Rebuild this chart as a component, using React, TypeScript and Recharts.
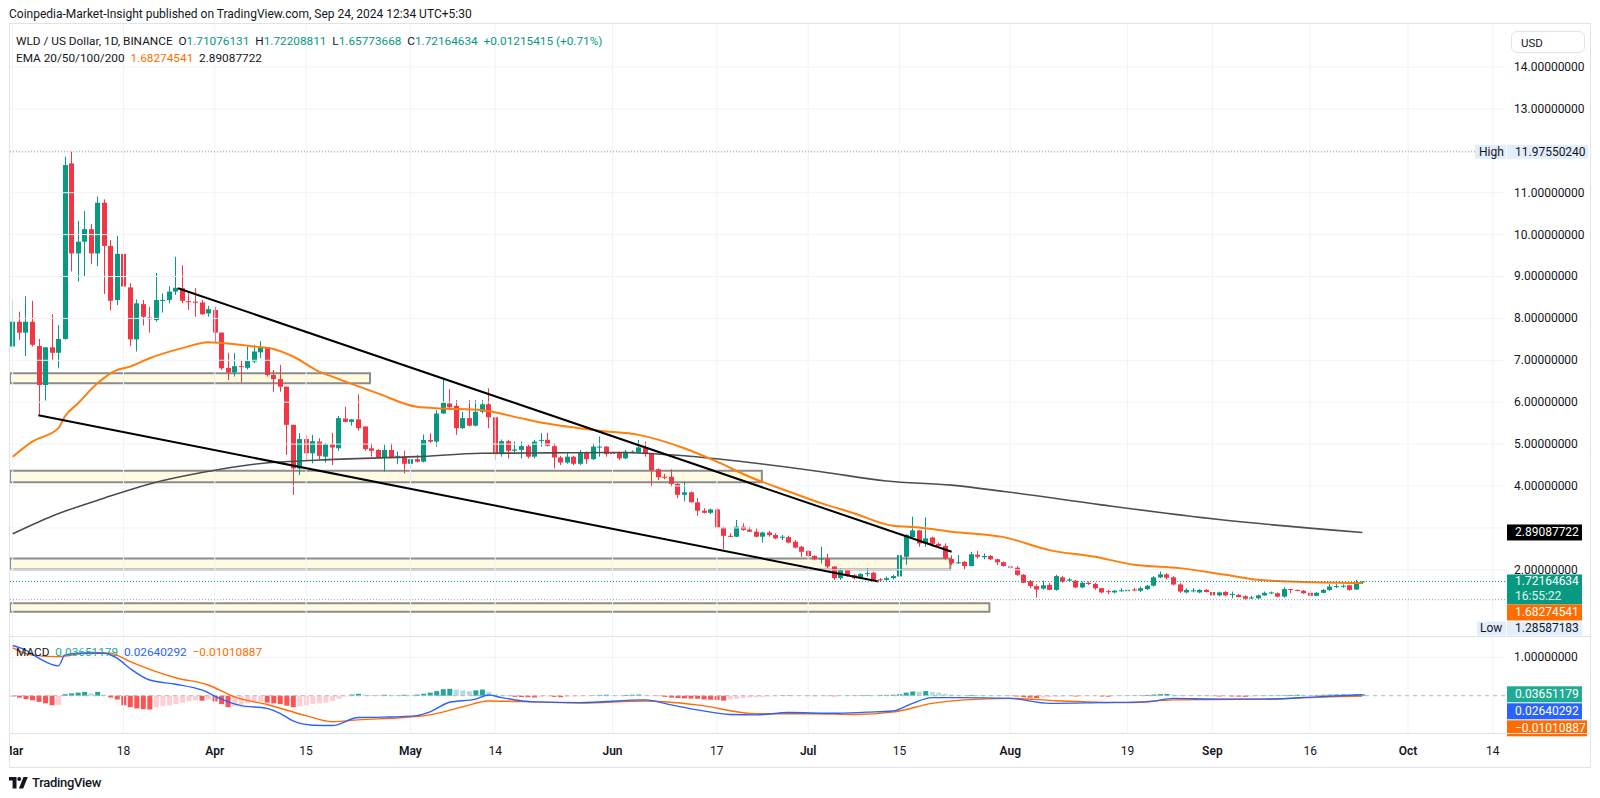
import React from 'react';
import { ComposedChart, Bar, Line, XAxis, YAxis, ReferenceLine, ReferenceArea, Cell } from 'recharts';

const FONT = 'Roboto, "Liberation Sans", Arial, sans-serif';
const TXT = '#131722';
const UP = '#089981';
const DOWN = '#f23645';
const GRID = '#f0f3fa';
const ORANGE = '#ff6d00';

// daily WLD/USD candles, index 0 = 1 Mar 2024
const opens = [
  7.33, 7.92, 7.66, 7.92, 7.34, 6.41, 7.31, 7.18, 7.51, 11.70,
  9.55, 9.83, 10.13, 9.55, 10.76, 9.73, 8.44, 9.54, 8.74, 7.50,
  8.34, 8.02, 7.96, 8.43, 8.44, 8.64, 8.72, 8.41, 8.40, 8.38,
  8.12, 8.20, 7.66, 6.82, 6.71, 6.86, 6.82, 6.97, 7.19, 7.31,
  6.65, 6.55, 6.37, 5.46, 4.42, 5.12, 4.78, 5.06, 4.70, 5.00,
  4.90, 5.61, 5.53, 5.59, 5.42, 4.90, 4.86, 4.68, 4.86, 4.70,
  4.70, 4.53, 4.64, 4.58, 5.10, 5.06, 5.73, 5.97, 5.91, 5.38,
  5.62, 5.44, 5.77, 5.95, 5.64, 4.76, 5.07, 4.84, 4.86, 4.95,
  4.70, 5.09, 5.10, 4.95, 4.68, 4.56, 4.70, 4.53, 4.80, 4.64,
  4.93, 4.94, 4.80, 4.79, 4.66, 4.80, 4.80, 4.92, 4.78, 4.40,
  4.22, 4.22, 4.05, 3.79, 3.85, 3.61, 3.41, 3.36, 3.44, 3.01,
  2.81, 2.79, 3.03, 2.96, 2.91, 2.79, 2.89, 2.83, 2.77, 2.78,
  2.67, 2.55, 2.45, 2.33, 2.25, 2.27, 2.08, 1.80, 1.99, 1.87,
  1.80, 1.90, 1.93, 1.77, 1.76, 1.80, 1.84, 2.31, 2.78, 2.94,
  2.63, 2.77, 2.62, 2.57, 2.26, 2.16, 2.19, 2.09, 2.36, 2.30,
  2.33, 2.25, 2.18, 2.08, 2.05, 1.88, 1.73, 1.61, 1.55, 1.64,
  1.52, 1.82, 1.74, 1.74, 1.58, 1.69, 1.66, 1.56, 1.49, 1.46,
  1.50, 1.49, 1.53, 1.50, 1.54, 1.62, 1.82, 1.89, 1.82, 1.65,
  1.46, 1.49, 1.46, 1.52, 1.47, 1.39, 1.47, 1.40, 1.40, 1.37,
  1.32, 1.32, 1.39, 1.44, 1.44, 1.36, 1.54, 1.52, 1.50, 1.45,
  1.38, 1.45, 1.52, 1.59, 1.60, 1.63, 1.53, 1.711,
];
const highs = [
  8.44, 8.16, 8.53, 8.42, 7.51, 7.31, 8.10, 7.84, 11.86, 11.98,
  10.33, 10.56, 10.25, 10.91, 10.84, 9.87, 9.97, 9.83, 8.84, 8.45,
  8.44, 8.28, 9.09, 8.60, 8.77, 9.47, 9.27, 8.60, 8.72, 8.44,
  8.30, 8.28, 7.66, 7.18, 7.17, 7.01, 7.33, 7.37, 7.46, 7.31,
  6.77, 6.89, 6.37, 5.46, 5.26, 5.22, 5.22, 5.14, 5.03, 5.27,
  5.67, 5.89, 5.60, 6.19, 5.42, 5.02, 4.88, 4.98, 5.02, 4.82,
  4.84, 4.66, 4.74, 5.23, 5.26, 5.81, 6.57, 6.31, 6.05, 5.77,
  6.05, 6.05, 6.05, 6.33, 5.64, 5.11, 5.10, 5.06, 5.06, 4.99,
  5.10, 5.26, 5.27, 5.02, 4.72, 4.80, 4.72, 4.86, 4.82, 5.02,
  5.18, 4.95, 4.80, 4.82, 4.86, 4.85, 5.10, 5.06, 4.78, 4.42,
  4.29, 4.40, 4.07, 4.10, 3.87, 3.71, 3.47, 3.46, 3.47, 3.03,
  2.87, 3.19, 3.11, 3.03, 2.99, 2.91, 2.93, 2.87, 2.83, 2.81,
  2.71, 2.57, 2.47, 2.35, 2.55, 2.38, 2.08, 2.03, 2.01, 1.90,
  1.92, 2.04, 1.95, 1.80, 1.84, 1.88, 2.38, 2.85, 3.27, 2.95,
  3.25, 2.79, 2.65, 2.63, 2.35, 2.35, 2.21, 2.43, 2.45, 2.39,
  2.35, 2.27, 2.20, 2.11, 2.09, 1.90, 1.76, 1.65, 1.74, 1.69,
  1.88, 1.85, 1.80, 1.76, 1.72, 1.72, 1.69, 1.57, 1.52, 1.52,
  1.56, 1.56, 1.57, 1.60, 1.64, 1.85, 1.96, 1.92, 1.85, 1.68,
  1.56, 1.56, 1.54, 1.54, 1.49, 1.48, 1.49, 1.48, 1.42, 1.39,
  1.38, 1.41, 1.48, 1.48, 1.46, 1.58, 1.54, 1.53, 1.52, 1.48,
  1.47, 1.54, 1.66, 1.66, 1.65, 1.64, 1.76, 1.722,
];
const lows = [
  7.31, 7.49, 7.10, 7.33, 5.70, 6.04, 7.01, 6.81, 7.49, 9.12,
  8.88, 9.00, 9.30, 9.25, 8.58, 8.19, 8.32, 8.60, 7.34, 7.21,
  7.83, 7.66, 7.92, 8.14, 8.36, 8.56, 8.36, 8.20, 8.04, 8.08,
  8.04, 7.42, 6.77, 6.53, 6.61, 6.47, 6.78, 6.93, 7.05, 6.61,
  6.25, 6.25, 4.74, 3.79, 4.26, 4.62, 4.54, 4.62, 4.56, 4.50,
  4.84, 5.52, 5.44, 5.32, 4.84, 4.70, 4.66, 4.34, 4.66, 4.52,
  4.30, 4.18, 4.56, 4.56, 5.03, 4.94, 5.72, 5.81, 5.22, 5.36,
  5.42, 5.42, 5.73, 5.38, 4.62, 4.70, 4.66, 4.80, 4.66, 4.66,
  4.66, 4.94, 4.94, 4.42, 4.50, 4.53, 4.50, 4.50, 4.53, 4.62,
  4.70, 4.70, 4.74, 4.62, 4.64, 4.78, 4.78, 4.70, 3.98, 4.14,
  4.16, 3.98, 3.71, 3.63, 3.61, 3.29, 3.35, 3.33, 2.99, 2.49,
  2.78, 2.78, 2.93, 2.90, 2.78, 2.65, 2.79, 2.73, 2.71, 2.63,
  2.51, 2.31, 2.30, 2.23, 2.15, 2.04, 1.76, 1.76, 1.84, 1.77,
  1.78, 1.84, 1.72, 1.72, 1.74, 1.77, 1.82, 2.12, 2.75, 2.55,
  2.55, 2.55, 2.54, 2.24, 2.11, 2.14, 1.99, 2.08, 2.27, 2.25,
  2.23, 2.11, 2.08, 2.02, 1.85, 1.68, 1.56, 1.34, 1.53, 1.52,
  1.50, 1.69, 1.72, 1.56, 1.56, 1.64, 1.52, 1.44, 1.42, 1.44,
  1.48, 1.46, 1.49, 1.47, 1.52, 1.60, 1.80, 1.77, 1.63, 1.45,
  1.44, 1.46, 1.44, 1.46, 1.38, 1.37, 1.37, 1.32, 1.34, 1.286,
  1.30, 1.30, 1.38, 1.42, 1.34, 1.34, 1.44, 1.49, 1.43, 1.37,
  1.37, 1.44, 1.50, 1.56, 1.57, 1.50, 1.52, 1.658,
];
const closes = [
  7.92, 7.66, 7.92, 7.37, 6.41, 7.31, 7.18, 7.51, 11.66, 9.55,
  9.83, 10.13, 9.55, 10.76, 9.73, 8.42, 9.54, 8.76, 7.50, 8.36,
  8.04, 7.98, 8.44, 8.44, 8.64, 8.73, 8.42, 8.40, 8.38, 8.10,
  8.22, 7.66, 6.81, 6.71, 6.86, 6.85, 6.98, 7.21, 7.31, 6.65,
  6.55, 6.37, 5.46, 4.42, 5.12, 4.78, 5.07, 4.72, 5.00, 4.92,
  5.62, 5.53, 5.59, 5.38, 4.88, 4.84, 4.68, 4.86, 4.68, 4.72,
  4.53, 4.64, 4.58, 5.10, 5.06, 5.73, 5.99, 5.88, 5.38, 5.62,
  5.44, 5.77, 5.95, 5.64, 4.76, 5.07, 4.84, 4.87, 4.95, 4.70,
  5.06, 5.10, 4.96, 4.68, 4.56, 4.70, 4.53, 4.80, 4.64, 4.94,
  4.94, 4.76, 4.76, 4.66, 4.82, 4.82, 4.92, 4.76, 4.38, 4.21,
  4.20, 4.05, 3.79, 3.85, 3.61, 3.41, 3.36, 3.44, 3.01, 2.81,
  2.79, 3.03, 2.95, 2.91, 2.79, 2.89, 2.83, 2.75, 2.79, 2.65,
  2.53, 2.43, 2.33, 2.25, 2.27, 2.08, 1.80, 1.99, 1.85, 1.80,
  1.90, 1.92, 1.76, 1.76, 1.80, 1.85, 2.35, 2.83, 2.94, 2.63,
  2.75, 2.62, 2.57, 2.28, 2.15, 2.18, 2.09, 2.37, 2.31, 2.33,
  2.25, 2.18, 2.09, 2.05, 1.88, 1.69, 1.61, 1.53, 1.63, 1.52,
  1.85, 1.72, 1.77, 1.58, 1.69, 1.66, 1.56, 1.46, 1.47, 1.50,
  1.51, 1.52, 1.51, 1.56, 1.62, 1.82, 1.89, 1.81, 1.65, 1.48,
  1.52, 1.51, 1.52, 1.47, 1.39, 1.46, 1.39, 1.42, 1.35, 1.31,
  1.34, 1.39, 1.45, 1.46, 1.36, 1.54, 1.52, 1.50, 1.44, 1.38,
  1.45, 1.52, 1.60, 1.61, 1.62, 1.52, 1.71, 1.722,
];

// EMA 50 / EMA 200 read at sample days: [day, value]
const ema50Pts = [
  [0, 4.70], [3, 5.06], [7, 5.38], [8, 5.66], [10, 5.97], [13, 6.45], [16, 6.77], [18, 6.85],
  [21, 7.05], [26, 7.29], [30, 7.43], [32, 7.41], [37, 7.33], [40, 7.27], [43, 7.09], [47, 6.73],
  [49, 6.61], [56, 6.21], [62, 5.89], [66, 5.85], [72, 5.81], [77, 5.65], [82, 5.49], [90, 5.32],
  [96, 5.22], [103, 4.90], [108, 4.58], [113, 4.22], [119, 3.87], [124, 3.59], [129, 3.35],
  [135, 3.05], [139, 3.01], [144, 2.91], [152, 2.78], [159, 2.47], [166, 2.31], [172, 2.12],
  [179, 2.04], [186, 1.88], [191, 1.76], [196, 1.72], [207, 1.683],
];
const ema200Pts = [
  [0, 2.86], [6, 3.28], [14, 3.71], [21, 4.05], [29, 4.32], [37, 4.52], [47, 4.62], [62, 4.70],
  [72, 4.78], [82, 4.79], [93, 4.80], [103, 4.72], [113, 4.56], [124, 4.34], [134, 4.12],
  [144, 4.02], [152, 3.87], [167, 3.55], [185, 3.20], [207, 2.891],
];

// MACD (12,26,9)
const macdPts = [
  [0, 1.31], [2, 1.19], [4, 0.98], [7, 0.78], [8, 1.06], [10, 1.11], [14, 1.11], [16, 0.98],
  [18, 0.71], [21, 0.41], [25, 0.30], [29, 0.15], [32, -0.09], [35, -0.26], [39, -0.33],
  [41, -0.46], [43, -0.66], [46, -0.77], [49, -0.78], [53, -0.57], [57, -0.56], [62, -0.52],
  [64, -0.42], [67, -0.17], [71, -0.09], [73, 0.02], [75, -0.05], [80, -0.16], [87, -0.18],
  [97, -0.11], [101, -0.24], [105, -0.37], [110, -0.49], [114, -0.50], [119, -0.44],
  [126, -0.46], [131, -0.43], [135, -0.40], [138, -0.20], [141, -0.05], [145, -0.05],
  [153, -0.07], [159, -0.20], [167, -0.18], [174, -0.16], [178, -0.07], [185, -0.09],
  [192, -0.09], [200, -0.03], [207, 0.0264],
];
const signalPts = [
  [0, 1.25], [3, 1.06], [7, 1.02], [12, 1.13], [15, 1.11], [18, 0.89], [22, 0.63], [25, 0.47],
  [30, 0.28], [34, -0.03], [39, -0.23], [45, -0.52], [49, -0.68], [53, -0.63], [60, -0.57],
  [64, -0.50], [69, -0.29], [73, -0.14], [80, -0.16], [87, -0.19], [97, -0.14], [105, -0.24],
  [114, -0.47], [123, -0.47], [129, -0.49], [135, -0.43], [141, -0.20], [146, -0.11],
  [153, -0.07], [160, -0.13], [171, -0.18], [178, -0.11], [192, -0.09], [202, -0.03],
  [207, -0.0101],
];
const histVals = [
  -0.02, -0.05, -0.09, -0.12, -0.16, -0.2, -0.25, -0.24, 0.04, 0.06,
  0.08, 0.1, 0.06, 0.1, 0.03, -0.05, -0.1, -0.25, -0.3, -0.33,
  -0.35, -0.36, -0.3, -0.27, -0.25, -0.22, -0.18, -0.15, -0.12, -0.13,
  -0.1, -0.15, -0.22, -0.3, -0.28, -0.24, -0.2, -0.18, -0.15, -0.18,
  -0.2, -0.22, -0.26, -0.3, -0.28, -0.25, -0.22, -0.2, -0.18, -0.14,
  -0.08, -0.02, 0.03, 0.05, 0.03, 0.02, 0.018, 0.025, 0.02, 0.018,
  0.025, 0.02, 0.03, 0.05, 0.08, 0.12, 0.17, 0.18, 0.16, 0.14,
  0.12, 0.14, 0.16, 0.1, 0.04, 0.02, -0.01, -0.03, -0.035, -0.04,
  -0.045, -0.03, -0.02, -0.03, -0.04, -0.03, -0.02, -0.015, -0.01, 0.01,
  0.02, 0.025, 0.015, 0.01, 0.02, 0.025, 0.03, 0.015, 0.005, -0.01,
  -0.03, -0.05, -0.06, -0.07, -0.075, -0.08, -0.1, -0.105, -0.11, -0.13,
  -0.1, -0.08, -0.06, -0.05, -0.04, -0.03, -0.02, -0.015, 0.01, 0.012,
  0.008, 0.005, -0.01, -0.012, -0.005, -0.01, -0.015, 0.005, 0.008, 0.01,
  0.012, 0.015, 0.012, 0.02, 0.022, 0.025, 0.04, 0.08, 0.11, 0.105,
  0.12, 0.1, 0.08, 0.05, 0.03, 0.02, 0.015, 0.02, 0.015, 0.01,
  0.008, 0.005, 0.003, -0.01, -0.02, -0.04, -0.05, -0.06, -0.05, -0.04,
  -0.03, -0.02, -0.01, -0.02, -0.015, -0.012, -0.01, -0.02, -0.025, -0.01,
  0.005, 0.008, 0.01, 0.012, 0.02, 0.03, 0.04, 0.045, 0.03, 0.015,
  0.01, 0.005, -0.005, -0.008, -0.01, -0.02, -0.015, -0.02, -0.025, -0.03,
  -0.02, 0.005, 0.008, 0.01, 0.012, 0.015, 0.02, 0.025, 0.02, 0.015,
  0.018, 0.025, 0.03, 0.032, 0.034, 0.03, 0.034, 0.0365,
];

const xTickDays = [0, 17, 31, 45, 61, 74, 92, 108, 122, 136, 153, 171, 184, 199, 214, 227];
const xTickLabels = ['Mar', '18', 'Apr', '15', 'May', '14', 'Jun', '17', 'Jul', '15', 'Aug', '19', 'Sep', '16', 'Oct', '14'];
const gridPrices = [2, 3, 4, 5, 6, 7, 8, 9, 10, 11, 12, 13, 14];
// 3 and 12 sit under the EMA200 and High tags, so no label is printed for them
const priceTicks = [2, 4, 5, 6, 7, 8, 9, 10, 11, 13, 14];

// support zones [lowPrice, highPrice, lastDay]
const zones = [
  [6.45, 6.69, 54.8],
  [4.09, 4.365, 114.9],
  [2.01, 2.27, 143.8],
  [1.0, 1.2, 149.8],
];
const upperTrend = [{ x: 25.35, y: 8.72 }, { x: 144.0, y: 2.43 }];
const lowerTrend = [{ x: 3.93, y: 5.69 }, { x: 132.8, y: 1.72 }];

const LAST = 1.72164634;
const HIGH = 11.9755024;
const LOW = 1.28587183;
const EMA200_LAST = 2.89087722;

const X_DOMAIN = [-0.414, 228.88];
const P_DOMAIN = [0.42, 15.026];
const M_DOMAIN = [-0.974, 1.559];

const pick = (pts: number[][], i: number) => {
  const f = pts.find((p) => p[0] === i);
  return f ? f[1] : null;
};

const rows = opens.map((o, i) => ({
  i,
  o,
  h: highs[i],
  l: lows[i],
  c: closes[i],
  range: [lows[i], highs[i]],
  ema50: pick(ema50Pts, i),
  ema200: pick(ema200Pts, i),
}));

const macdRows = histVals.map((v, i) => ({
  i,
  hist: v,
  macd: pick(macdPts, i),
  signal: pick(signalPts, i),
}));

const histColor = (i: number) => {
  const v = histVals[i];
  const prev = i > 0 ? histVals[i - 1] : v;
  if (v >= 0) return prev < v ? '#26a69a' : '#b2dfdb';
  return prev < v ? '#ffcdd2' : '#ff5252';
};

function Candle(props: any) {
  const { x, y, width, height, payload } = props;
  if (!payload || x == null) return null;
  const { o, h, l, c } = payload;
  const top = Math.min(y, y + height);
  const hh = Math.abs(height);
  const pix = (v: number) => (h === l ? top : top + ((h - v) / (h - l)) * hh);
  const color = c >= o ? UP : DOWN;
  const cx = Math.round(x + width / 2) + 0.5;
  const b1 = pix(Math.max(o, c));
  const b2 = pix(Math.min(o, c));
  return (
    <g>
      <line x1={cx} x2={cx} y1={top} y2={top + hh} stroke={color} strokeWidth={1} />
      <rect x={cx - 2.5} y={b1} width={5} height={Math.max(1, b2 - b1)} fill={color} />
    </g>
  );
}

const PriceTick = (p: any) => (
  <text x={p.x} y={p.y} dy={4} fontSize={12} fill={TXT} fontFamily={FONT} textAnchor="start">
    {Number(p.payload.value).toFixed(8)}
  </text>
);

const DateTick = (p: any) => {
  const k = xTickDays.indexOf(p.payload.value);
  const label = xTickLabels[k] ?? '';
  const month = /[A-Za-z]/.test(label);
  return (
    <text x={p.x} y={p.y} dy={22} fontSize={12} fontWeight={month ? 600 : 400} fill={TXT} fontFamily={FONT} textAnchor="middle">
      {label}
    </text>
  );
};

const Tag = ({ x, y, w, h, bg, fg, text }: any) => (
  <g>
    <rect x={x} y={y} width={w} height={h} fill={bg} />
    <text x={x + 8} y={y + h / 2 + 4} fontSize={12} fill={fg} fontFamily={FONT}>{text}</text>
  </g>
);

const HighTags = (p: any) => {
  const y = p.viewBox.y;
  return (
    <g>
      <rect x={1475} y={y - 7} width={31} height={14} fill="#e3eefd" />
      <text x={1479} y={y + 4} fontSize={12} fill={TXT} fontFamily={FONT}>High</text>
      <Tag x={1507} y={y - 7} w={81} h={14} bg="#e3eefd" fg={TXT} text="11.97550240" />
    </g>
  );
};

const Ema200Tag = (p: any) => (
  <Tag x={1507} y={p.viewBox.y - 8} w={75} h={16} bg="#000000" fg="#ffffff" text="2.89087722" />
);

const LastTags = (p: any) => {
  const y = p.viewBox.y;
  return (
    <g fontFamily={FONT}>
      <rect x={1507} y={y - 7} width={75} height={30} fill={UP} />
      <text x={1515} y={y + 4} fontSize={12} fill="#fff">1.72164634</text>
      <text x={1515} y={y + 19} fontSize={12} fill="#e6f4f1">16:55:22</text>
      <Tag x={1507} y={y + 23} w={75} h={16} bg={ORANGE} fg="#fff" text="1.68274541" />
      <rect x={1477} y={y + 40} width={29} height={14} fill="#e3eefd" />
      <text x={1480} y={y + 51} fontSize={12} fill={TXT}>Low</text>
      <Tag x={1507} y={y + 40} w={75} h={14} bg="#e3eefd" fg={TXT} text="1.28587183" />
    </g>
  );
};

const MacdTags = (p: any) => {
  const y = p.viewBox.y;
  return (
    <g>
      <Tag x={1507} y={y - 8} w={75} h={16} bg="#22ab94" fg="#fff" text="0.03651179" />
      <Tag x={1507} y={y + 9} w={75} h={16} bg="#2962ff" fg="#fff" text="0.02640292" />
      <Tag x={1507} y={y + 26} w={80} h={16} bg={ORANGE} fg="#fff" text="−0.01010887" />
    </g>
  );
};

function MainChart() {
  return (
    <ComposedChart width={1600} height={640} data={rows} margin={{ top: 24, right: 10, bottom: 4, left: 10 }}>
      <XAxis dataKey="i" type="number" domain={X_DOMAIN} allowDataOverflow hide />
      <YAxis
        orientation="right"
        domain={P_DOMAIN}
        allowDataOverflow
        ticks={priceTicks}
        width={85}
        axisLine={false}
        tickLine={false}
        tickSize={0}
        tickMargin={9}
        tick={<PriceTick />}
      />
      {gridPrices.map((v) => (
        <ReferenceLine key={'h' + v} y={v} stroke={GRID} />
      ))}
      {xTickDays.map((d) => (
        <ReferenceLine key={'v' + d} x={d} stroke={GRID} ifOverflow="hidden" />
      ))}
      {zones.map((z, k) => (
        <ReferenceArea key={'z' + k} x1={X_DOMAIN[0]} x2={z[2]} y1={z[0]} y2={z[1]} fill="#fffbe3" fillOpacity={1} stroke="#8c8c8c" strokeWidth={2} />
      ))}
      <ReferenceLine y={HIGH} stroke="#9598a1" strokeDasharray="1 2" label={<HighTags />} />
      <ReferenceLine y={LOW} stroke="#9598a1" strokeDasharray="1 2" />
      <Bar dataKey="range" barSize={6} shape={<Candle />} isAnimationActive={false} />
      <Line dataKey="ema200" type="monotone" stroke="#4d4d4d" strokeWidth={1.6} dot={false} connectNulls isAnimationActive={false} />
      <Line dataKey="ema50" type="monotone" stroke="#ff7f0e" strokeWidth={2} dot={false} connectNulls isAnimationActive={false} />
      <ReferenceLine segment={upperTrend} stroke="#000" strokeWidth={2} />
      <ReferenceLine segment={lowerTrend} stroke="#000" strokeWidth={2} />
      <ReferenceLine y={EMA200_LAST} stroke="none" label={<Ema200Tag />} />
      <ReferenceLine y={LAST} stroke={UP} strokeDasharray="1 2" label={<LastTags />} />
    </ComposedChart>
  );
}

function MacdChart() {
  return (
    <ComposedChart width={1600} height={131} data={macdRows} margin={{ top: 0, right: 10, bottom: 0, left: 10 }}>
      <XAxis
        dataKey="i"
        type="number"
        domain={X_DOMAIN}
        allowDataOverflow
        ticks={xTickDays}
        interval={0}
        height={34}
        axisLine={false}
        tickLine={false}
        tickSize={0}
        tickMargin={0}
        tick={<DateTick />}
      />
      <YAxis
        orientation="right"
        domain={M_DOMAIN}
        allowDataOverflow
        ticks={[1]}
        width={85}
        axisLine={false}
        tickLine={false}
        tickSize={0}
        tickMargin={9}
        tick={<PriceTick />}
      />
      <ReferenceLine y={1} stroke={GRID} />
      {xTickDays.map((d) => (
        <ReferenceLine key={'mv' + d} x={d} stroke={GRID} ifOverflow="hidden" />
      ))}
      <ReferenceLine y={0} stroke="#b2b5be" strokeDasharray="4 4" />
      <Bar dataKey="hist" barSize={5} isAnimationActive={false}>
        {macdRows.map((r) => (
          <Cell key={r.i} fill={histColor(r.i)} />
        ))}
      </Bar>
      <Line dataKey="signal" type="monotone" stroke={ORANGE} strokeWidth={1.4} dot={false} connectNulls isAnimationActive={false} />
      <Line dataKey="macd" type="monotone" stroke="#2962ff" strokeWidth={1.4} dot={false} connectNulls isAnimationActive={false} />
      <ReferenceLine y={0.03651179} stroke="none" label={<MacdTags />} />
    </ComposedChart>
  );
}

export default function App() {
  const legend: React.CSSProperties = { position: 'absolute', left: 16, fontSize: 11.8, lineHeight: '16px', whiteSpace: 'pre' };
  return (
    <div style={{ position: 'absolute', left: 0, top: 0, width: 1600, height: 798, background: '#fff', fontFamily: FONT, color: TXT, overflow: 'hidden' }}>
      <div style={{ position: 'absolute', left: 9, top: 6, fontSize: 12, lineHeight: '16px', whiteSpace: 'pre' }}>
        Coinpedia-Market-Insight published on TradingView.com, Sep 24, 2024 12:34 UTC+5:30
      </div>
      <div style={{ position: 'absolute', left: 9, top: 23, width: 1580, height: 743, border: '1px solid #e0e3eb' }} />
      <div style={{ position: 'absolute', left: 10, top: 0, width: 1580, height: 798, overflow: 'hidden' }}>
        <div style={{ position: 'absolute', left: -10, top: 0 }}>
          <MainChart />
        </div>
        <div style={{ position: 'absolute', left: -10, top: 636 }}>
          <MacdChart />
        </div>
      </div>
      <div style={{ position: 'absolute', left: 10, top: 636, width: 1580, height: 1, background: '#e0e3eb' }} />
      <div style={{ position: 'absolute', left: 10, top: 733, width: 1580, height: 1, background: '#e0e3eb' }} />
      <div style={{ position: 'absolute', left: 1511, top: 31, width: 74, height: 22, border: '1px solid #e0e3eb', borderRadius: 6, fontSize: 11.5, lineHeight: '22px', paddingLeft: 9, boxSizing: 'border-box' }}>
        USD
      </div>
      <div style={{ ...legend, top: 33 }}>
        {'WLD / US Dollar, 1D, BINANCE  O'}
        <span style={{ color: UP }}>1.71076131</span>
        {'  H'}
        <span style={{ color: UP }}>1.72208811</span>
        {'  L'}
        <span style={{ color: UP }}>1.65773668</span>
        {'  C'}
        <span style={{ color: UP }}>1.72164634</span>
        <span style={{ color: UP }}>{'  +0.01215415 (+0.71%)'}</span>
      </div>
      <div style={{ ...legend, top: 50 }}>
        {'EMA 20/50/100/200  '}
        <span style={{ color: ORANGE }}>1.68274541</span>
        {'  2.89087722'}
      </div>
      <div style={{ ...legend, top: 644 }}>
        {'MACD  '}
        <span style={{ color: '#22ab94' }}>0.03651179</span>
        {'  '}
        <span style={{ color: '#2962ff' }}>0.02640292</span>
        {'  '}
        <span style={{ color: ORANGE }}>−0.01010887</span>
      </div>
      <div style={{ position: 'absolute', left: 9, top: 775, display: 'flex', alignItems: 'center', gap: 4 }}>
        <svg width={19} height={12} viewBox="0 0 19 12">
          <path d="M0 0h7.5v11.5H3.6V3.6H0z" fill={TXT} />
          <circle cx={10.2} cy={2} r={2} fill={TXT} />
          <path d="M14.5 0h4.3l-4.6 11.5H9.9z" fill={TXT} />
        </svg>
        <span style={{ fontSize: 13, fontWeight: 500, letterSpacing: -0.3 }}>TradingView</span>
      </div>
    </div>
  );
}
